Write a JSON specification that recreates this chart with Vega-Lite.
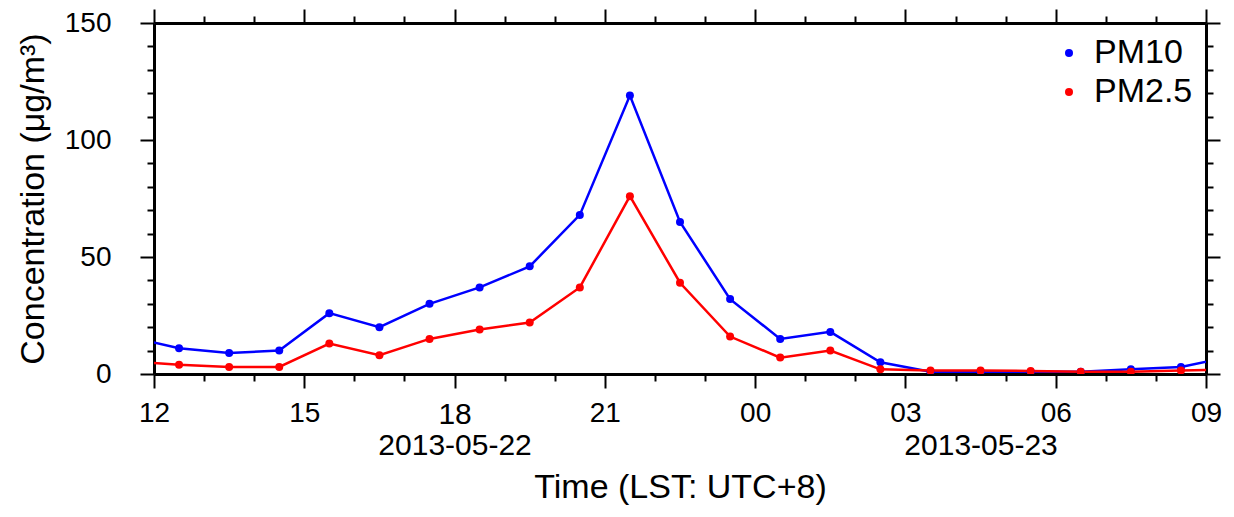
{
  "$schema": "https://vega.github.io/schema/vega-lite/v6.json",
  "autosize": {"type": "none"},
  "padding": {"left": 154, "top": 23, "right": 28, "bottom": 143},
  "width": 1052,
  "height": 351,
  "background": "white",
  "config": {
    "font": "Liberation Sans",
    "view": {"stroke": null},
    "axis": {
      "domainColor": "black",
      "domainWidth": 3,
      "tickColor": "black",
      "tickWidth": 2,
      "grid": false,
      "labelColor": "black",
      "titleColor": "black",
      "labelFont": "Liberation Sans",
      "titleFont": "Liberation Sans",
      "titleFontWeight": "normal",
      "labelFontSize": 28,
      "titleFontSize": 34
    }
  },
  "data": {
    "values": [
      {"time": "2013-05-22T11:30:00", "pollutant": "PM10", "value": 16},
      {"time": "2013-05-22T12:30:00", "pollutant": "PM10", "value": 11},
      {"time": "2013-05-22T13:30:00", "pollutant": "PM10", "value": 9},
      {"time": "2013-05-22T14:30:00", "pollutant": "PM10", "value": 10},
      {"time": "2013-05-22T15:30:00", "pollutant": "PM10", "value": 26},
      {"time": "2013-05-22T16:30:00", "pollutant": "PM10", "value": 20},
      {"time": "2013-05-22T17:30:00", "pollutant": "PM10", "value": 30},
      {"time": "2013-05-22T18:30:00", "pollutant": "PM10", "value": 37},
      {"time": "2013-05-22T19:30:00", "pollutant": "PM10", "value": 46},
      {"time": "2013-05-22T20:30:00", "pollutant": "PM10", "value": 68},
      {"time": "2013-05-22T21:30:00", "pollutant": "PM10", "value": 119},
      {"time": "2013-05-22T22:30:00", "pollutant": "PM10", "value": 65},
      {"time": "2013-05-22T23:30:00", "pollutant": "PM10", "value": 32},
      {"time": "2013-05-23T00:30:00", "pollutant": "PM10", "value": 15},
      {"time": "2013-05-23T01:30:00", "pollutant": "PM10", "value": 18},
      {"time": "2013-05-23T02:30:00", "pollutant": "PM10", "value": 5},
      {"time": "2013-05-23T03:30:00", "pollutant": "PM10", "value": 1},
      {"time": "2013-05-23T04:30:00", "pollutant": "PM10", "value": 1},
      {"time": "2013-05-23T05:30:00", "pollutant": "PM10", "value": 1},
      {"time": "2013-05-23T06:30:00", "pollutant": "PM10", "value": 1},
      {"time": "2013-05-23T07:30:00", "pollutant": "PM10", "value": 2},
      {"time": "2013-05-23T08:30:00", "pollutant": "PM10", "value": 3},
      {"time": "2013-05-23T09:30:00", "pollutant": "PM10", "value": 7.5},
      {"time": "2013-05-22T11:30:00", "pollutant": "PM2.5", "value": 5.5},
      {"time": "2013-05-22T12:30:00", "pollutant": "PM2.5", "value": 4},
      {"time": "2013-05-22T13:30:00", "pollutant": "PM2.5", "value": 3},
      {"time": "2013-05-22T14:30:00", "pollutant": "PM2.5", "value": 3},
      {"time": "2013-05-22T15:30:00", "pollutant": "PM2.5", "value": 13},
      {"time": "2013-05-22T16:30:00", "pollutant": "PM2.5", "value": 8},
      {"time": "2013-05-22T17:30:00", "pollutant": "PM2.5", "value": 15},
      {"time": "2013-05-22T18:30:00", "pollutant": "PM2.5", "value": 19},
      {"time": "2013-05-22T19:30:00", "pollutant": "PM2.5", "value": 22},
      {"time": "2013-05-22T20:30:00", "pollutant": "PM2.5", "value": 37},
      {"time": "2013-05-22T21:30:00", "pollutant": "PM2.5", "value": 76},
      {"time": "2013-05-22T22:30:00", "pollutant": "PM2.5", "value": 39},
      {"time": "2013-05-22T23:30:00", "pollutant": "PM2.5", "value": 16},
      {"time": "2013-05-23T00:30:00", "pollutant": "PM2.5", "value": 7},
      {"time": "2013-05-23T01:30:00", "pollutant": "PM2.5", "value": 10},
      {"time": "2013-05-23T02:30:00", "pollutant": "PM2.5", "value": 2},
      {"time": "2013-05-23T03:30:00", "pollutant": "PM2.5", "value": 1.5},
      {"time": "2013-05-23T04:30:00", "pollutant": "PM2.5", "value": 1.5},
      {"time": "2013-05-23T05:30:00", "pollutant": "PM2.5", "value": 1.3},
      {"time": "2013-05-23T06:30:00", "pollutant": "PM2.5", "value": 1},
      {"time": "2013-05-23T07:30:00", "pollutant": "PM2.5", "value": 1},
      {"time": "2013-05-23T08:30:00", "pollutant": "PM2.5", "value": 1.5},
      {"time": "2013-05-23T09:30:00", "pollutant": "PM2.5", "value": 2}
    ]
  },
  "resolve": {
    "axis": {"x": "independent", "y": "independent"},
    "legend": {"color": "independent"}
  },
  "layer": [
    {
      "mark": {"type": "line", "strokeWidth": 2.5, "clip": true},
      "encoding": {
        "x": {
          "field": "time",
          "type": "temporal",
          "scale": {
            "domain": [
              {"year": 2013, "month": 5, "date": 22, "hours": 12},
              {"year": 2013, "month": 5, "date": 23, "hours": 9}
            ],
            "nice": false
          },
          "axis": {
            "orient": "bottom",
            "title": "Time (LST: UTC+8)",
            "titlePadding": 10,
            "values": [
              {"year": 2013, "month": 5, "date": 22, "hours": 12},
              {"year": 2013, "month": 5, "date": 22, "hours": 13},
              {"year": 2013, "month": 5, "date": 22, "hours": 14},
              {"year": 2013, "month": 5, "date": 22, "hours": 15},
              {"year": 2013, "month": 5, "date": 22, "hours": 16},
              {"year": 2013, "month": 5, "date": 22, "hours": 17},
              {"year": 2013, "month": 5, "date": 22, "hours": 18},
              {"year": 2013, "month": 5, "date": 22, "hours": 19},
              {"year": 2013, "month": 5, "date": 22, "hours": 20},
              {"year": 2013, "month": 5, "date": 22, "hours": 21},
              {"year": 2013, "month": 5, "date": 22, "hours": 22},
              {"year": 2013, "month": 5, "date": 22, "hours": 23},
              {"year": 2013, "month": 5, "date": 23, "hours": 0},
              {"year": 2013, "month": 5, "date": 23, "hours": 1},
              {"year": 2013, "month": 5, "date": 23, "hours": 2},
              {"year": 2013, "month": 5, "date": 23, "hours": 3},
              {"year": 2013, "month": 5, "date": 23, "hours": 4},
              {"year": 2013, "month": 5, "date": 23, "hours": 4, "minutes": 30},
              {"year": 2013, "month": 5, "date": 23, "hours": 5},
              {"year": 2013, "month": 5, "date": 23, "hours": 6},
              {"year": 2013, "month": 5, "date": 23, "hours": 7},
              {"year": 2013, "month": 5, "date": 23, "hours": 8},
              {"year": 2013, "month": 5, "date": 23, "hours": 9}
            ],
            "labelExpr": "minutes(datum.value) === 30 ? timeFormat(datum.value, '%Y-%m-%d') : hours(datum.value) === 18 ? [timeFormat(datum.value, '%H'), timeFormat(datum.value, '%Y-%m-%d')] : hours(datum.value) % 3 === 0 ? timeFormat(datum.value, '%H') : ''",
            "labelOverlap": false,
            "labelFlush": false,
            "labelBound": false,
            "labelAlign": "center",
            "labelBaseline": "top",
            "labelLineHeight": 31,
            "labelFontSize": {"condition": {"test": "minutes(datum.value) === 30 || hours(datum.value) === 18", "value": 30}, "value": 28},
            "labelPadding": {"condition": {"test": "minutes(datum.value) === 30", "value": 49}, "value": 11},
            "tickSize": {"condition": {"test": "hours(datum.value) % 3 === 0 && minutes(datum.value) === 0", "value": 14}, "value": 7},
            "tickOpacity": {"condition": {"test": "minutes(datum.value) !== 0", "value": 0}, "value": 1}
          }
        },
        "y": {
          "field": "value",
          "type": "quantitative",
          "scale": {"domain": [0, 150], "nice": false},
          "axis": {
            "orient": "left",
            "title": "Concentration (μg/m³)",
            "titlePadding": 14,
            "values": [0, 10, 20, 30, 40, 50, 60, 70, 80, 90, 100, 110, 120, 130, 140, 150],
            "labelExpr": "datum.value % 50 === 0 ? datum.label : ''",
            "labelPadding": 29,
            "tickSize": {"condition": {"test": "datum.value % 50 === 0", "value": 14}, "value": 7}
          }
        },
        "color": {
          "field": "pollutant",
          "type": "nominal",
          "scale": {"domain": ["PM10", "PM2.5"], "range": ["#0000ff", "#ff0000"]},
          "legend": null
        }
      }
    },
    {
      "mark": {"type": "circle", "size": 64, "opacity": 1, "clip": true},
      "encoding": {
        "x": {
          "field": "time",
          "type": "temporal",
          "axis": {
            "orient": "top",
            "title": null,
            "labels": false,
            "values": [
              {"year": 2013, "month": 5, "date": 22, "hours": 12},
              {"year": 2013, "month": 5, "date": 22, "hours": 13},
              {"year": 2013, "month": 5, "date": 22, "hours": 14},
              {"year": 2013, "month": 5, "date": 22, "hours": 15},
              {"year": 2013, "month": 5, "date": 22, "hours": 16},
              {"year": 2013, "month": 5, "date": 22, "hours": 17},
              {"year": 2013, "month": 5, "date": 22, "hours": 18},
              {"year": 2013, "month": 5, "date": 22, "hours": 19},
              {"year": 2013, "month": 5, "date": 22, "hours": 20},
              {"year": 2013, "month": 5, "date": 22, "hours": 21},
              {"year": 2013, "month": 5, "date": 22, "hours": 22},
              {"year": 2013, "month": 5, "date": 22, "hours": 23},
              {"year": 2013, "month": 5, "date": 23, "hours": 0},
              {"year": 2013, "month": 5, "date": 23, "hours": 1},
              {"year": 2013, "month": 5, "date": 23, "hours": 2},
              {"year": 2013, "month": 5, "date": 23, "hours": 3},
              {"year": 2013, "month": 5, "date": 23, "hours": 4},
              {"year": 2013, "month": 5, "date": 23, "hours": 5},
              {"year": 2013, "month": 5, "date": 23, "hours": 6},
              {"year": 2013, "month": 5, "date": 23, "hours": 7},
              {"year": 2013, "month": 5, "date": 23, "hours": 8},
              {"year": 2013, "month": 5, "date": 23, "hours": 9}
            ],
            "tickSize": {"condition": {"test": "hours(datum.value) % 3 === 0", "value": 14}, "value": 7}
          }
        },
        "y": {
          "field": "value",
          "type": "quantitative",
          "axis": {
            "orient": "right",
            "title": null,
            "labels": false,
            "values": [0, 10, 20, 30, 40, 50, 60, 70, 80, 90, 100, 110, 120, 130, 140, 150],
            "tickSize": {"condition": {"test": "datum.value % 50 === 0", "value": 14}, "value": 7}
          }
        },
        "color": {
          "field": "pollutant",
          "type": "nominal",
          "scale": {"domain": ["PM10", "PM2.5"], "range": ["#0000ff", "#ff0000"]},
          "legend": {
            "orient": "top-right",
            "title": null,
            "offset": 13,
            "labelFontSize": 34,
            "labelFont": "Liberation Sans",
            "symbolType": "circle",
            "symbolSize": 64,
            "symbolStrokeWidth": 0,
            "rowPadding": 5,
            "labelOffset": 8,
            "encode": {
              "labels": {"fill": {"value": {"expr": "scale('color', datum.value)"}}}
            }
          }
        }
      }
    }
  ]
}
